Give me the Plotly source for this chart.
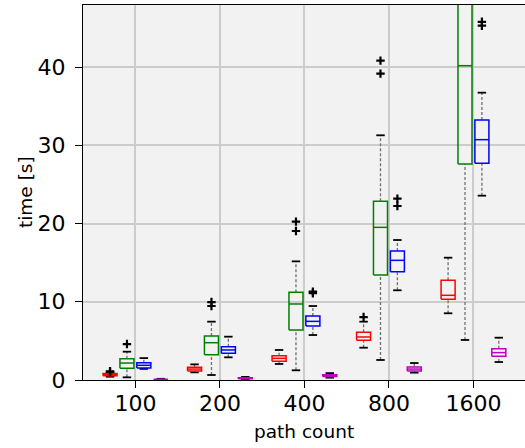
import plotly.graph_objects as go

# Path counts on the x axis
categories = ["100", "200", "400", "800", "1600"]

# Per series: (whisker low, q1, median, q3, whisker high) for each path count, in seconds
red_stats = [(0.42, 0.55, 0.68, 0.84, 0.95),
             (0.98, 1.15, 1.40, 1.62, 2.00),
             (2.05, 2.39, 2.77, 3.11, 3.84),
             (4.13, 5.07, 5.50, 6.10, 7.46),
             (8.53, 10.32, 10.83, 12.75, 15.64)]
green_stats = [(0.34, 1.49, 2.17, 2.72, 3.62),
               (0.64, 3.24, 4.77, 5.63, 7.46),
               (1.24, 6.39, 9.72, 11.21, 15.17),
               (2.56, 13.43, 19.52, 22.85, 31.29),
               (5.12, 27.62, 40.19, 52.00, 66.00)]
blue_stats = [(1.42, 1.52, 1.88, 2.22, 2.80),
              (2.90, 3.41, 3.84, 4.26, 5.54),
              (5.75, 6.90, 7.50, 8.18, 9.46),
              (11.47, 13.85, 15.30, 16.50, 17.90),
              (23.57, 27.70, 30.73, 33.25, 36.74)]
magenta_stats = [(0.03, 0.06, 0.08, 0.11, 0.15),
                 (0.10, 0.16, 0.22, 0.28, 0.40),
                 (0.30, 0.45, 0.55, 0.68, 0.88),
                 (0.94, 1.15, 1.40, 1.66, 2.17),
                 (2.30, 3.03, 3.50, 4.00, 5.41)]

# Outliers beyond the whiskers
red_fliers = [[1.05, 1.12], [], [], [8.05], []]
green_fliers = [[4.60], [9.46, 9.97], [19.05, 20.25], [39.17, 40.84], []]
blue_fliers = [[], [], [11.10, 11.30], [22.25, 23.19], [45.30, 45.80]]
magenta_fliers = [[], [], [], [], []]

y_ticks = [0, 10, 20, 30, 40]

series = [
    ("#ff0000", red_stats, red_fliers, -0.3),
    ("#008000", green_stats, green_fliers, -0.1),
    ("#0000ff", blue_stats, blue_fliers, 0.1),
    ("#bf00bf", magenta_stats, magenta_fliers, 0.3),
]

BOX_HALF = 0.083
CAP_HALF = 0.05

fig = go.Figure()

for color, stats, fliers, offset in series:
    wx, wy, cx, cy, bx, by, mx, my, fx, fy = [], [], [], [], [], [], [], [], [], []
    for i, (lo, q1, med, q3, hi) in enumerate(stats):
        p = i + offset
        # whiskers
        wx += [p, p, None, p, p, None]
        wy += [lo, q1, None, q3, hi, None]
        # caps
        cx += [p - CAP_HALF, p + CAP_HALF, None, p - CAP_HALF, p + CAP_HALF, None]
        cy += [lo, lo, None, hi, hi, None]
        # box outline
        bx += [p - BOX_HALF, p + BOX_HALF, p + BOX_HALF, p - BOX_HALF, p - BOX_HALF, None]
        by += [q1, q1, q3, q3, q1, None]
        # median
        mx += [p - BOX_HALF, p + BOX_HALF, None]
        my += [med, med, None]
        for v in fliers[i]:
            fx.append(p)
            fy.append(v)
    fig.add_trace(go.Scatter(x=wx, y=wy, mode="lines", hoverinfo="skip",
                             line=dict(color="#707070", width=1.3, dash="3px,2px")))
    fig.add_trace(go.Scatter(x=cx, y=cy, mode="lines", hoverinfo="skip",
                             line=dict(color="black", width=1.8)))
    fig.add_trace(go.Scatter(x=bx, y=by, mode="lines", hoverinfo="skip",
                             line=dict(color=color, width=1.5)))
    fig.add_trace(go.Scatter(x=mx, y=my, mode="lines", hoverinfo="skip",
                             line=dict(color=color, width=1.5)))
    if fx:
        fig.add_trace(go.Scatter(x=fx, y=fy, mode="markers", hoverinfo="skip",
                                 marker=dict(symbol="cross-thin", size=6, color="black",
                                             line=dict(color="black", width=2.2))))

axis_font = dict(family="DejaVu Sans", size=22, color="black")

fig.update_layout(
    width=525, height=448,
    margin=dict(l=83, r=0, t=5, b=68),
    paper_bgcolor="white",
    plot_bgcolor="#f2f2f2",
    showlegend=False,
    font=dict(family="DejaVu Sans", color="black"),
    xaxis=dict(
        range=[-0.62, 4.61],
        tickmode="array", tickvals=list(range(len(categories))), ticktext=categories,
        tickfont=axis_font, ticks="outside", ticklen=7, tickwidth=1.3, tickcolor="black",
        ticklabelstandoff=-4,
        showgrid=True, gridcolor="#cccccc", gridwidth=1.5,
        showline=True, linecolor="black", linewidth=1.4, mirror=True,
        zeroline=False,
    ),
    yaxis=dict(
        range=[0, 47.95],
        tickmode="array", tickvals=y_ticks, ticktext=[str(v) for v in y_ticks],
        tickfont=axis_font, ticks="outside", ticklen=7, tickwidth=1.3, tickcolor="black",
        ticklabelstandoff=5,
        showgrid=True, gridcolor="#cccccc", gridwidth=1.5,
        showline=True, linecolor="black", linewidth=1.4,
        zeroline=False,
    ),
    annotations=[
        dict(text="path count", xref="paper", yref="paper", x=0.5, y=-0.137,
             xanchor="center", yanchor="middle", showarrow=False,
             font=dict(family="DejaVu Sans", size=18.5, color="black")),
        dict(text="time [s]", xref="paper", yref="paper", x=-0.13, y=0.5,
             xanchor="center", yanchor="middle", textangle=-90, showarrow=False,
             font=dict(family="DejaVu Sans", size=18.5, color="black")),
    ],
)

fig.write_html("out.html")
